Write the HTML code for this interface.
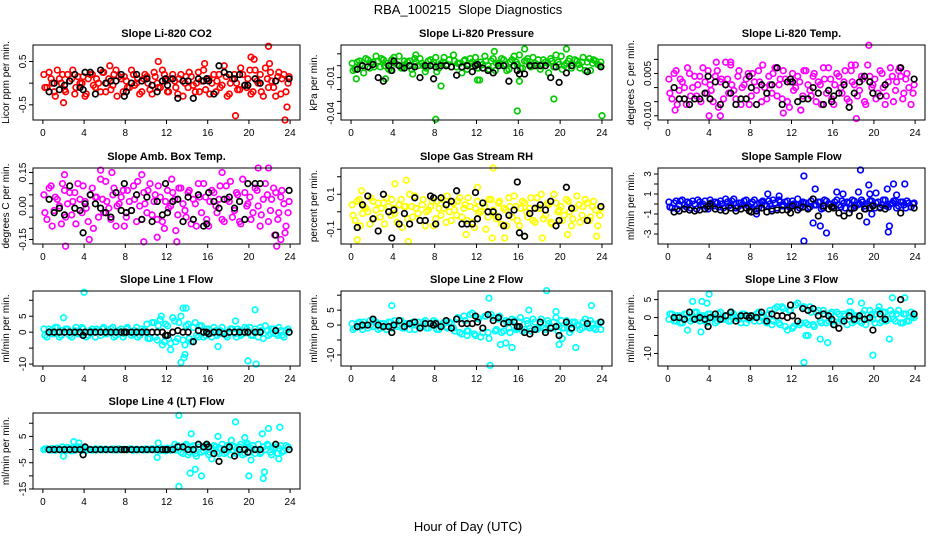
<!DOCTYPE html>
<html><head><meta charset="utf-8"><style>
body{margin:0;background:#fff;}
svg{display:block;font-family:"Liberation Sans",sans-serif;}
</style></head><body>
<svg id="chart" width="936" height="540" viewBox="0 0 936 540">
<rect width="936" height="540" fill="#fff"/>
<text x="468" y="14" text-anchor="middle" font-size="13">RBA_100215&#160; Slope Diagnostics</text>
<text x="468" y="531" text-anchor="middle" font-size="13">Hour of Day (UTC)</text>
</svg>
<script>
const hoursA=[0.1,0.4,0.8,1.1,1.4,1.8,2.1,2.4,2.8,3.1,3.4,3.8,4.1,4.4,4.8,5.1,5.4,5.8,6.1,6.4,6.8,7.1,7.4,7.8,8.1,8.4,8.8,9.1,9.4,9.8,10.1,10.4,10.8,11.1,11.4,11.8,12.1,12.4,12.8,13.1,13.4,13.8,14.1,14.4,14.8,15.1,15.4,15.8,16.1,16.4,16.8,17.1,17.4,17.8,18.1,18.4,18.8,19.1,19.4,19.8,20.1,20.4,20.8,21.1,21.4,21.8,22.1,22.4,22.8,23.1,23.4,23.8];
const hoursB=[0.2,0.6,0.9,1.2,1.6,1.9,2.2,2.6,2.9,3.2,3.6,3.9,4.2,4.6,4.9,5.2,5.6,5.9,6.2,6.6,6.9,7.2,7.6,7.9,8.2,8.6,8.9,9.2,9.6,9.9,10.2,10.6,10.9,11.2,11.6,11.9,12.2,12.6,12.9,13.2,13.6,13.9,14.2,14.6,14.9,15.2,15.6,15.9,16.2,16.6,16.9,17.2,17.6,17.9,18.2,18.6,18.9,19.2,19.6,19.9,20.2,20.6,20.9,21.2,21.6,21.9,22.2,22.6,22.9,23.2,23.6,23.9];
const hoursBlack=[0.6,1.1,1.6,2.1,2.6,3.1,3.6,3.9,4.1,4.6,5.1,5.6,6.1,6.6,7.1,7.6,7.9,8.1,8.6,9.1,9.6,10.1,10.6,11.1,11.6,11.9,12.1,12.6,13.1,13.6,14.1,14.6,15.1,15.6,15.9,16.1,16.6,17.1,17.6,18.1,18.6,19.1,19.6,19.9,20.6,21.1,22.6,23.9];

const co2Band1=[0.2,-0.1,0.1,-0.2,0.3,0,-0.15,0.2,0.1,-0.25,0.15,0,-0.3,0.1,0.2,-0.1,0,0.25,-0.2,0.1,-0.05,0.3,0.15,-0.2,0.05,-0.1,0.2,0,-0.25,0.1,0.15,-0.15,0.25,0,-0.1,0.2,-0.2,0.1,0.05,-0.25,0.2,0,-0.1,0.15,-0.2,0.25,0.05,-0.15,0.1,0,-0.2,0.2,-0.05,0.15,-0.25,0.1,0,-0.15,0.2,-0.1,0.3,-0.2,0.05,0.2,-0.3,0.1,0.25,-0.1,0.15,-0.25,0.2,0];
const co2Band2=[-0.1,0.25,0,-0.3,0.1,0.2,-0.2,0.05,0.3,-0.1,0,0.15,-0.25,0.2,-0.05,0.1,-0.2,0.25,0,-0.15,0.2,-0.3,0.1,0.15,-0.1,0.3,-0.05,0.1,-0.2,0.2,0,-0.25,0.15,-0.1,0.3,0.05,-0.2,0.2,-0.1,0.1,-0.3,0.15,0.25,-0.05,0,-0.2,0.3,0.1,-0.25,0.2,0.05,-0.1,0.25,-0.3,0,0.2,-0.15,0.35,-0.05,0.1,-0.25,0.3,0,-0.2,0.35,-0.1,0.05,-0.3,0.25,0.1,-0.2,0.15];
const co2Black=[-0.2,0,-0.15,-0.05,0.05,0.2,-0.1,-0.15,0.25,0.25,-0.25,0.3,0,0.05,0.05,0.2,-0.3,-0.2,0,0.2,0.05,0.1,-0.05,-0.2,0.05,0.1,-0.05,0.1,-0.35,0.05,0.05,-0.35,0.1,0.05,0.1,0.05,-0.25,0.4,0.25,0.2,0.1,0.2,-0.05,-0.05,0.1,0,0.05,0.1];
const co2OutHours=[2,6.5,11.2,15.7,17.6,18.7,20.2,21.9,23.5,23.7,22,20.5];
const co2OutVals=[-0.45,0.4,0.5,0.45,0.4,-0.75,0.6,0.85,-0.85,-0.55,0.45,0.55];

const presBand1=[0.002,-0.003,0.004,0,0.006,-0.002,0.003,0.008,-0.001,0.005,0.002,-0.004,0.007,0.001,-0.002,0.004,0.003,-0.003,0.006,0,0.002,-0.005,0.004,0.001,0.007,-0.002,0.003,0,0.005,0.009,-0.001,0.002,0.004,-0.003,0.006,0.001,-0.002,0.003,0.008,0,0.004,-0.004,0.002,0.006,0.001,-0.003,0.005,0.003,0.009,-0.002,0.004,0.001,0.007,0,-0.003,0.005,0.002,0.006,-0.001,0.003,0.008,0,0.004,-0.002,0.005,0.001,0.003,-0.004,0.006,0.002,0.004,0];
const presBand2=[-0.004,0.003,0.001,-0.006,0.005,0.002,-0.001,0.004,0.006,0,-0.003,0.005,0.002,0.008,-0.002,0.001,0.004,-0.007,0.003,0.006,0,-0.002,0.005,0.003,-0.005,0.002,0.007,0.001,-0.001,0.004,0.002,-0.006,0.005,0,0.003,0.007,-0.002,0.001,0.004,-0.003,0.006,0.002,0,0.005,-0.004,0.003,0.008,0.001,-0.002,0.004,0.006,-0.001,0.002,0.005,0,0.003,-0.006,0.004,0.009,0.001,-0.003,0.002,0.006,0,0.004,-0.002,0.007,0.003,-0.004,0.005,0.001,0.003];
const presBlack=[-0.003,0,-0.001,0.001,-0.01,-0.013,0,-0.004,0.004,0,-0.002,0,-0.001,-0.01,0,0,-0.011,-0.001,0,0,-0.001,-0.008,-0.001,0,-0.005,0,0.001,-0.002,-0.004,-0.006,0,0,-0.013,0,-0.004,-0.007,-0.007,0,0,0,0,-0.01,-0.001,-0.014,-0.006,0,-0.005,-0.001];
const presOutHours=[0.5,3.3,8.1,8.6,12.1,12.3,15.9,16.1,16.6,19.4,20.6,24.0,13.7,6.2];
const presOutVals=[-0.011,-0.011,-0.045,-0.017,-0.012,-0.012,-0.038,-0.013,0.014,-0.028,0.014,-0.042,0.012,0.009];

const tempBand1=[0.003,-0.004,0.006,-0.001,0.002,-0.006,0.005,0,-0.003,0.004,0.007,-0.002,0.001,-0.005,0.006,0.002,-0.004,0.003,0.008,-0.001,0.004,-0.006,0.001,0.005,-0.003,0.002,0.006,-0.005,0,0.004,-0.002,0.007,0.001,-0.004,0.003,-0.007,0.005,0,0.002,-0.003,0.006,-0.001,0.004,-0.005,0.001,0.007,-0.002,0.003,-0.006,0.005,0,0.002,-0.004,0.006,0.001,-0.003,0.004,-0.005,0.008,0,0.003,-0.002,0.005,-0.006,0.002,0.004,-0.001,0.006,-0.004,0.003,0,-0.002];
const tempBand2=[-0.002,0.005,-0.006,0.003,0,0.007,-0.003,0.004,0.001,-0.005,0.002,0.006,-0.001,0.004,-0.007,0.003,0.009,-0.002,0.001,-0.004,0.006,0,0.003,-0.006,0.005,-0.001,0.002,0.008,-0.004,0.001,0.005,-0.003,0.003,0.006,-0.005,0.002,-0.001,0.004,-0.008,0.006,0.001,-0.003,0.005,0.002,-0.006,0.003,0.007,-0.004,0.001,0.004,-0.002,0.006,-0.005,0.002,0.008,-0.001,0.003,-0.006,0.004,0.001,-0.004,0.006,0,-0.003,0.007,-0.005,0.002,0.004,-0.002,0.005,-0.006,0.001];
const tempBlack=[0,-0.004,-0.004,-0.006,-0.004,-0.004,-0.002,0.004,-0.004,0.002,-0.006,0.001,-0.002,-0.006,-0.004,-0.004,0.004,0,-0.006,0.001,-0.002,0.001,0.007,-0.006,0.002,0.003,0.002,-0.005,-0.004,-0.004,0,-0.002,-0.006,-0.001,-0.005,-0.003,-0.002,0.001,-0.007,-0.002,0.002,0.004,0.002,-0.002,-0.003,0.001,0.007,0.003];
const tempOutHours=[0.7,4.0,4.7,5.1,6.1,10.5,11.2,17.8,18.3,19.5,22.5,12.9];
const tempOutVals=[-0.008,-0.01,0.009,-0.010,0.009,0.007,-0.009,0.008,-0.011,0.015,0.007,-0.008];

const ambBand1=[0.05,-0.06,0.09,-0.02,0.03,-0.08,0.07,0.01,-0.04,0.06,0.1,-0.03,0.02,-0.07,0.08,0.04,-0.05,0.03,0.11,-0.01,0.05,-0.09,0.01,0.07,-0.05,0.02,0.09,-0.07,0,0.06,-0.03,0.1,0.02,-0.06,0.04,-0.1,0.07,0,0.03,-0.04,0.08,-0.02,0.06,-0.08,0.01,0.1,-0.03,0.04,-0.09,0.07,0,0.03,-0.06,0.09,0.02,-0.05,0.06,-0.07,0.12,0,0.04,-0.03,0.07,-0.09,0.03,0.05,-0.02,0.08,-0.06,0.04,0.01,-0.03];
const ambBand2=[-0.03,0.08,-0.09,0.04,0,0.1,-0.05,0.06,0.02,-0.08,0.03,0.09,-0.01,0.05,-0.1,0.04,0.12,-0.03,0.02,-0.06,0.08,0,0.04,-0.09,0.07,-0.02,0.03,0.11,-0.06,0.01,0.07,-0.04,0.05,0.09,-0.07,0.02,-0.01,0.06,-0.11,0.08,0.01,-0.05,0.07,0.03,-0.09,0.04,0.1,-0.06,0.02,0.06,-0.03,0.09,-0.07,0.03,0.11,-0.02,0.05,-0.08,0.06,0.01,-0.06,0.08,0,-0.04,0.1,-0.07,0.03,0.06,-0.03,0.07,-0.09,0.02];
const ambBlack=[0.03,-0.03,-0.01,-0.04,0.09,-0.01,-0.02,-0.12,0.01,0.05,0.01,-0.01,-0.03,-0.05,0.06,-0.02,0.1,-0.03,-0.02,0.05,-0.06,0.04,-0.07,0.02,-0.04,0.1,-0.03,0.02,0.03,-0.07,0.04,-0.06,0.05,-0.09,-0.08,0.06,0.02,-0.01,0.03,0.04,-0.01,0.02,-0.06,0.1,0.1,0.1,-0.13,0.07];
const ambOutHours=[2.1,2.2,4.5,5.6,6.7,9.6,9.8,11.1,12.5,13.0,17.4,20.9,21.9,22.7,22.5,23.1,23.5];
const ambOutVals=[0.14,-0.18,-0.15,0.16,0.15,0.14,-0.16,-0.14,0.12,-0.16,0.15,0.17,0.17,-0.18,-0.13,-0.15,-0.12];

const rhBand1=[0.04,-0.05,0.07,-0.01,0.02,-0.07,0.06,0.01,-0.03,0.05,0.08,-0.02,0.02,-0.06,0.07,0.03,-0.04,0.03,0.09,-0.01,0.04,-0.08,0.01,0.06,-0.04,0.02,0.07,-0.06,0,0.05,-0.02,0.08,0.02,-0.05,0.03,-0.09,0.06,0,0.03,-0.03,0.07,-0.02,0.05,-0.07,0.01,0.08,-0.03,0.03,-0.08,0.06,0,0.02,-0.05,0.08,0.02,-0.04,0.05,-0.06,0.1,0,0.03,-0.02,0.06,-0.08,0.02,0.04,-0.02,0.07,-0.05,0.03,0.01,-0.02];
const rhBand2=[-0.02,0.06,-0.08,0.03,0,0.08,-0.04,0.05,0.02,-0.07,0.03,0.07,-0.01,0.04,-0.09,0.03,0.1,-0.03,0.02,-0.05,0.07,0,0.03,-0.08,0.06,-0.02,0.02,0.09,-0.05,0.01,0.06,-0.03,0.04,0.08,-0.06,0.02,-0.01,0.05,-0.1,0.07,0.01,-0.04,0.06,0.02,-0.08,0.03,0.09,-0.05,0.02,0.05,-0.03,0.08,-0.06,0.02,0.1,-0.02,0.04,-0.07,0.05,0.01,-0.05,0.07,0,-0.04,0.09,-0.06,0.03,0.05,-0.03,0.06,-0.08,0.02];
const rhBlack=[-0.09,0.04,0.09,-0.04,-0.11,0.1,0,-0.15,0.01,-0.07,-0.01,-0.07,0.08,-0.05,-0.05,0.09,0.08,-0.07,0.08,0.04,0.06,0.12,-0.07,-0.07,-0.07,0.11,-0.04,0.05,0,0,-0.03,-0.08,-0.02,0.01,0.17,-0.12,-0.14,-0.01,0.02,0.04,0.01,0.06,-0.08,-0.05,0.14,0.02,-0.05,0.03];
const rhOutHours=[0.6,1.0,4.2,5.3,5.5,11.0,13.6,13.5,14.7,16.6,18.3,20.7,23.5,12.1];
const rhOutVals=[-0.16,0.12,0.16,0.18,-0.17,-0.13,0.25,-0.15,-0.15,-0.14,-0.15,-0.13,-0.14,0.14];

const sampBand1=[0.2,-0.4,0.3,-0.1,0.4,-0.3,0.1,0.3,-0.5,0.2,0,-0.3,0.4,-0.2,0.1,0.3,-0.4,0.2,-0.1,0.5,-0.3,0.1,0.3,-0.2,0,0.4,-0.4,0.2,-0.1,0.3,-0.5,0.1,0.4,-0.2,0.2,-0.3,0.3,0,-0.4,0.2,0.1,-0.3,0.5,-0.1,0.2,-0.4,0.3,0,-0.2,0.4,-0.3,0.1,0.2,-0.5,0.3,-0.1,0.4,-0.2,0,0.3,-0.4,0.2,-0.1,0.4,-0.3,0.1,0.3,-0.2,0.2,-0.4,0.1,0];
const sampBand2=[-0.3,0.1,-0.5,0.3,-0.1,0.2,-0.4,0,0.4,-0.2,0.3,-0.5,0.1,0.2,-0.3,0,0.5,-0.2,0.3,-0.4,0.1,-0.1,0.4,-0.3,0.2,-0.5,0.1,0.3,-0.2,0,0.4,-0.4,0.2,-0.1,0.3,-0.3,0,0.5,-0.2,0.1,-0.4,0.3,-0.1,0.2,-0.5,0.4,0,-0.3,0.2,-0.1,0.3,-0.4,0.1,0.4,-0.2,0,0.2,-0.5,0.3,-0.1,0.1,-0.3,0.4,-0.2,0,0.3,-0.4,0.2,-0.1,0.3,-0.3,0.1];
const sampBlack=[-0.8,-0.7,-0.5,-0.6,-0.7,-0.6,-0.5,-0.2,0,-0.5,-0.6,-0.7,-0.4,-0.7,-0.5,-0.4,-0.7,-0.8,-0.7,-0.4,-0.8,-0.7,-0.6,-0.6,-0.6,-0.9,-0.2,-0.6,-0.3,-0.5,0.5,-1.2,-0.2,-0.5,-0.3,-0.4,-0.9,-1.2,-0.9,-0.4,-1.2,-0.5,-0.4,-0.2,-0.4,-0.5,-0.9,-0.4];
const sampOutHours=[13.2,13.2,14.1,14.3,14.8,15.4,16.4,17.0,18.5,18.7,19.3,19.5,19.6,19.8,20.2,21.3,21.4,21.5,21.9,22.2,23.0,8.6,9.7,10.8];
const sampOutVals=[2.8,-3.7,-1.9,1.5,-2.2,-2.9,1.2,1.0,1.2,3.4,-1.8,1.9,1.0,-1.0,1.1,1.5,-2.8,-2.2,2.0,0.9,2.0,-1.0,1.0,0.8];

const l1Band1=[1,-1.5,0.5,-0.5,1.5,-1,0,1,-1.5,0.5,-0.5,1.5,0,-1,1,-1.5,0.5,1,-0.5,0,1.5,-1,0.5,-1.5,1,0,-0.5,1.5,-1,0.5,2.5,-2,3,-2.5,4,-3,2,-3.5,3.5,-2,5,-4,2.5,-3,3,-1.5,2,-1,1,-1.5,0.5,-0.5,1.5,-1,0,1,-1.5,0.5,-0.5,1,1.5,-1,0,1.5,-2,0.5,-0.5,1,-1,0.5,-1.5,1];
const l1Band2=[-1,1,-0.5,1.5,-1.5,0.5,1,-1,0,1.5,-0.5,1,-1.5,0.5,0,1,-1,1.5,-0.5,1,-1.5,0,1,-0.5,1.5,-1,0.5,-1.5,1,0,-2,3,-1.5,2,-4,2.5,-2,4.5,-3,3,-2.5,2,-2,1.5,-1,2,-1.5,1,-0.5,1.5,-1,0.5,0,-1.5,1,-0.5,1,-1,1.5,0,-1,1,-1.5,0.5,2,-1,1,-0.5,1.5,-1,0.5,0];
const l1Black=[0,0,0,0,0,0,0,-1,0,0,0,0,0,0,0,0,0,0,0,0,0,0,0,0,0,-1,-1,0,0.5,0,0,-3,0.5,0,0,-0.5,0,0,-0.5,0,0,0,0,0,0,0,0.5,0];
const l1OutHours=[4.0,13.4,13.7,13.8,13.9,12.4,17.0,20.6,19.9,20.7,13.6,2.0,18.7,11.5];
const l1OutVals=[12.5,-9.5,-8,-7,7.5,-5.5,-4.5,7,-9,-10,7.5,4.5,3.5,5];

const l2Band1=[0.5,-1,1,-1.5,0,1.5,-0.5,1,-1,0.5,-1.5,1,0,-0.5,1.5,-1,0.5,0,-1.5,1,-0.5,1.5,-1,0,1,-1.5,0.5,-0.5,1,-1,2,-2.5,3,-2,3.5,-3,2.5,-4,3,-2.5,3.5,-2,2,-2.5,1.5,-1,2,-1.5,1,-2,1.5,-1,2,-1.5,0.5,-1,1.5,-0.5,1,-2,1.5,-1,0.5,-1.5,1,0,-1,2,-1,0.5,-1.5,1];
const l2Band2=[-1.5,0.5,-0.5,1,-1,0,1.5,-1.5,0.5,-0.5,1,-1,1.5,0,-1,0.5,-1.5,1,0,-0.5,1,-1,0.5,1.5,-1.5,0,1,-1,0.5,-2,2.5,-3,1.5,-2,4,-3.5,2,-2.5,3,-4.5,2.5,-1.5,3,-2,1,-2.5,1.5,-1,2.5,-1.5,0.5,-2,1,-1,2,-1.5,0.5,-1,2.5,-0.5,-1,1.5,-2.5,1,0,-1.5,1,-0.5,1.5,-1,0.5,-1.5];
const l2Black=[-0.5,0,0,2,0,-0.5,-0.5,-2.5,0,1.5,-0.5,0.5,1,-1,0.5,0.5,0,0.5,-0.5,1.5,-1,2,0.5,0.5,0.5,3,1,-1,3.5,1.5,2.5,0.5,1,1,-0.5,-0.5,-2.5,-3,-1.5,1,-2.5,-1,-0.5,-3.5,1,-1,0.5,1];
const l2OutHours=[3.9,13.3,13.2,14.3,14.8,15.4,18.7,19.9,21.5,23.0,17.0,20.2,19.6,11.1];
const l2OutVals=[6.5,-13.5,9,-6.5,-6,-7.5,11.5,-6.5,-7.5,6.5,5,-4.5,4.5,-3.5];

const l3Band1=[-0.5,1,-1,0.5,-1.5,1,0,-0.5,1.5,-1,0.5,-1.5,1,0,-1,1.5,-0.5,0.5,-1,1,0,-1.5,1,-0.5,0.5,-1,1.5,0,-1,1,-2,2.5,-1.5,3,-2.5,2,-3,3.5,-2,2.5,-1.5,3,-2,1.5,-1,2,-1.5,1,-1,1.5,-0.5,1,-2,1.5,-1,0.5,-1.5,2,-0.5,1,-1.5,2,-1,1.5,-0.5,1,-1,2,-1.5,1,-1,0.5];
const l3Band2=[1,-1,0.5,-1.5,1,0,-1,1.5,-0.5,0.5,-1,1,0,-1.5,1,-0.5,0.5,-1,1.5,0,-0.5,1,-1.5,0.5,0,1,-1,0.5,-1.5,2,-1,3,-2,2.5,-3.5,2,-2.5,4,-1.5,3,-2,1.5,-2.5,2,-1.5,1,-1,1.5,-2,1,-1,0.5,1.5,-1.5,0.5,-1,1,-2,2,-0.5,1,-1.5,1.5,-1,2,-0.5,1,-1.5,1,-1,1.5,0];
const l3Black=[0,0,-0.5,1.5,-0.5,0,-0.5,-2.5,0,1,-0.5,0.5,1.5,-1,0.5,0.5,0,0.5,0,1.5,-1,1,0.5,0.5,0,3.5,0.5,-1,2.5,2,2.5,0.5,1,0.5,-0.5,-2,-3,-1,0.5,-0.5,0.5,-0.5,0,-3.5,1,-0.5,5,1];
const l3OutHours=[4.0,2.4,3.3,3.2,3.8,13.2,13.4,13.6,14.8,15.5,19.9,21.5,21.8,23.0,20.5,17.7,18.8,1.9];
const l3OutVals=[6.5,4.5,4.5,-4,4,-12.5,-5,-5,-6,-7,-10.5,-6,5.5,5.5,3,4.5,4,-3.5];

const l4Band1=[0,0.3,-0.2,0.1,0.5,-0.3,0.2,0.8,-0.5,0.4,1,-0.3,0.6,0,-0.2,0.3,0.1,-0.1,0.2,0,-0.2,0.1,0.3,-0.1,0,0.2,-0.3,0.1,0,-0.2,0.2,0,-0.1,0.3,-0.4,0.2,0.5,-0.3,0.4,1.5,-1,1.5,-2,1,-1.5,2,-1,1.5,-2,0.5,1,-1.5,2,-1,0.5,1.5,-1.5,1,-2,2.5,-1,1.5,0,-1.5,1,2,-1,0.5,-1.5,1.5,-0.5,1];
const l4Band2=[0.2,-0.1,0.4,-0.3,0.2,1,-0.5,0.3,0.6,-0.2,0.4,0.2,-0.3,0.1,0,-0.2,0.2,0,-0.1,0.1,0.2,-0.2,0,0.1,-0.1,0.3,0,-0.2,0.1,0.2,-0.1,0.3,0,-0.2,0.3,-0.5,0.2,0.4,-0.2,1,-1.5,2,-1,1.5,-2.5,1,-0.5,2,-1,1.5,-1,0.5,-1.5,1.5,-2,1,-0.5,2,-1.5,1,0.5,-1.5,2,-1,0,1.5,-2,1,0.5,-1,1.5,0];
const l4Black=[0,0,0,0,0,0,0,-2,1,0,0,0,0,0,0,0,0,0,0,0,0,0,0,0,0,0,0,0,1,1,0,0,2,1,2,1,-1.5,-4.5,0,1,-2.5,0,0,-1,0,0,2,0];
const l4OutHours=[3.0,3.5,2.0,11.2,11.1,13.2,13.2,14.3,14.4,14.8,15.4,16.4,17.0,18.3,18.7,19.6,19.9,20.2,20.0,21.3,21.5,21.4,21.9,23.0,22.9,12.8];
const l4OutVals=[3,2.5,-2.5,2.5,-3,13,-14,-9,6,-7.5,-10,-3.5,5,3.5,10.5,4.5,2,-4,-10,6,-8.5,-11,8,8.5,-3.5,2];

const xTicks=[0,4,8,12,16,20,24];

const panels=[
 {name:'co2',title:'Slope Li-820 CO2',ylab:'Licor ppm per min.',col:'#ff0000',L:33,R:300,T:45,B:120,ymin:-0.85,ymax:0.88,ticks:[-0.5,0,0.5],labels:{'-0.5':'-0.5','0.5':'0.5'},b1:co2Band1,b2:co2Band2,bk:co2Black,oh:co2OutHours,ov:co2OutVals},
 {name:'pressure',title:'Slope Li-820 Pressure',ylab:'kPa per min.',col:'#00cc00',L:341,R:612,T:45,B:120,ymin:-0.0456,ymax:0.0174,ticks:[0.01,0,-0.01,-0.02,-0.03,-0.04],labels:{'-0.01':'-0.01','-0.04':'-0.04'},b1:presBand1,b2:presBand2,bk:presBlack,oh:presOutHours,ov:presOutVals},
 {name:'temp',title:'Slope Li-820 Temp.',ylab:'degrees C per min.',col:'#ff00ff',L:658,R:925,T:45,B:120,ymin:-0.0115,ymax:0.0151,ticks:[0.01,0.005,0,-0.005,-0.01],labels:{'0.005':'0.005','-0.01':'-0.010'},b1:tempBand1,b2:tempBand2,bk:tempBlack,oh:tempOutHours,ov:tempOutVals},
 {name:'amb-box-temp',title:'Slope Amb. Box Temp.',ylab:'degrees C per min.',col:'#ff00ff',L:33,R:300,T:168,B:244,ymin:-0.17,ymax:0.17,ticks:[0.15,0.1,0.05,0,-0.05,-0.1,-0.15],labels:{'0.15':'0.15','0':'0.00','-0.15':'-0.15'},b1:ambBand1,b2:ambBand2,bk:ambBlack,oh:ambOutHours,ov:ambOutVals},
 {name:'gas-stream-rh',title:'Slope Gas Stream RH',ylab:'percent per min.',col:'#ffff00',L:341,R:612,T:168,B:244,ymin:-0.184,ymax:0.25,ticks:[0.2,0.1,0,-0.1],labels:{'0.1':'0.1','-0.1':'-0.1'},b1:rhBand1,b2:rhBand2,bk:rhBlack,oh:rhOutHours,ov:rhOutVals},
 {name:'sample-flow',title:'Slope Sample Flow',ylab:'ml/min per min.',col:'#0000ff',L:658,R:925,T:168,B:244,ymin:-4.0,ymax:3.6,ticks:[3,2,1,0,-1,-2,-3],labels:{'3':'3','1':'1','-1':'-1','-3':'-3'},b1:sampBand1,b2:sampBand2,bk:sampBlack,oh:sampOutHours,ov:sampOutVals},
 {name:'line1-flow',title:'Slope Line 1 Flow',ylab:'ml/min per min.',col:'#00ffff',L:33,R:300,T:291,B:366,ymin:-10.6,ymax:12.9,ticks:[10,5,0,-5,-10],labels:{'5':'5','0':'0','-10':'-10'},b1:l1Band1,b2:l1Band2,bk:l1Black,oh:l1OutHours,ov:l1OutVals},
 {name:'line2-flow',title:'Slope Line 2 Flow',ylab:'ml/min per min.',col:'#00ffff',L:341,R:612,T:291,B:366,ymin:-13.7,ymax:11.4,ticks:[10,5,0,-5,-10],labels:{'5':'5','0':'0','-10':'-10'},b1:l2Band1,b2:l2Band2,bk:l2Black,oh:l2OutHours,ov:l2OutVals},
 {name:'line3-flow',title:'Slope Line 3 Flow',ylab:'ml/min per min.',col:'#00ffff',L:658,R:925,T:291,B:366,ymin:-13.5,ymax:7.4,ticks:[5,0,-5,-10],labels:{'5':'5','0':'0','-10':'-10'},b1:l3Band1,b2:l3Band2,bk:l3Black,oh:l3OutHours,ov:l3OutVals},
 {name:'line4-flow',title:'Slope Line 4 (LT) Flow',ylab:'ml/min per min.',col:'#00ffff',L:33,R:300,T:413,B:489,ymin:-15,ymax:13.9,ticks:[10,5,0,-5,-10,-15],labels:{'5':'5','-5':'-5','-15':'-15'},b1:l4Band1,b2:l4Band2,bk:l4Black,oh:l4OutHours,ov:l4OutVals}
];

const NS='http://www.w3.org/2000/svg';
const svg=document.getElementById('chart');
function mk(tag,attrs,parent){const e=document.createElementNS(NS,tag);for(const k in attrs)e.setAttribute(k,attrs[k]);(parent||svg).appendChild(e);return e;}

panels.forEach(p=>{
  const g=mk('g',{});
  
  
  const w=p.R-p.L,h=p.B-p.T;
  const xs=v=>p.L+(v+0.96)/25.92*w;
  const ys=v=>p.B-(v-p.ymin)/(p.ymax-p.ymin)*h;
  const t=mk('text',{x:(p.L+p.R)/2,y:p.T-8,'text-anchor':'middle','font-size':'11','font-weight':'bold'},g);
  t.textContent=p.title;
  
  
  const yl=mk('text',{x:0,y:0,'text-anchor':'middle','font-size':'10',transform:`translate(${p.L-24},${(p.T+p.B)/2}) rotate(-90)`},g);
  yl.textContent=p.ylab;
  
  
  const pts=mk('g',{fill:'none','stroke-width':'1.7'},g);
  
  
  const drawSet=(hs,vs,color,nm)=>{
    const n=Math.min(hs.length,vs.length);
    for(let i=0;i<n;i++){
      const c=mk('circle',{cx:xs(hs[i]).toFixed(1),cy:ys(vs[i]).toFixed(1),r:2.8,stroke:color},pts);
      
      
    }
  };
  drawSet(hoursA,p.b1,p.col,'point');
  drawSet(hoursB,p.b2,p.col,'point');
  drawSet(p.oh,p.ov,p.col,'outlier-point');
  drawSet(hoursBlack,p.bk,'#000','black-point');
  const box=mk('rect',{x:p.L,y:p.T,width:w,height:h,fill:'none',stroke:'#000','stroke-width':'1'},g);
  
  
  xTicks.forEach(v=>{
    const x=xs(v);
    mk('line',{x1:x,x2:x,y1:p.B,y2:p.B+4,stroke:'#000'},g);
    const lt=mk('text',{x:x,y:p.B+16,'text-anchor':'middle','font-size':'10'},g);
    lt.textContent=v;
    
    
  });
  p.ticks.forEach(v=>{
    const y=ys(v);
    mk('line',{x1:p.L-4,x2:p.L,y1:y,y2:y,stroke:'#000'},g);
    const key=String(v);
    if(p.labels[key]!==undefined){
      const lt=mk('text',{x:0,y:0,'text-anchor':'middle','font-size':'10',transform:`translate(${p.L-7},${y}) rotate(-90)`},g);
      lt.textContent=p.labels[key];
      
      
    }
  });
});
</script>
</body></html>
